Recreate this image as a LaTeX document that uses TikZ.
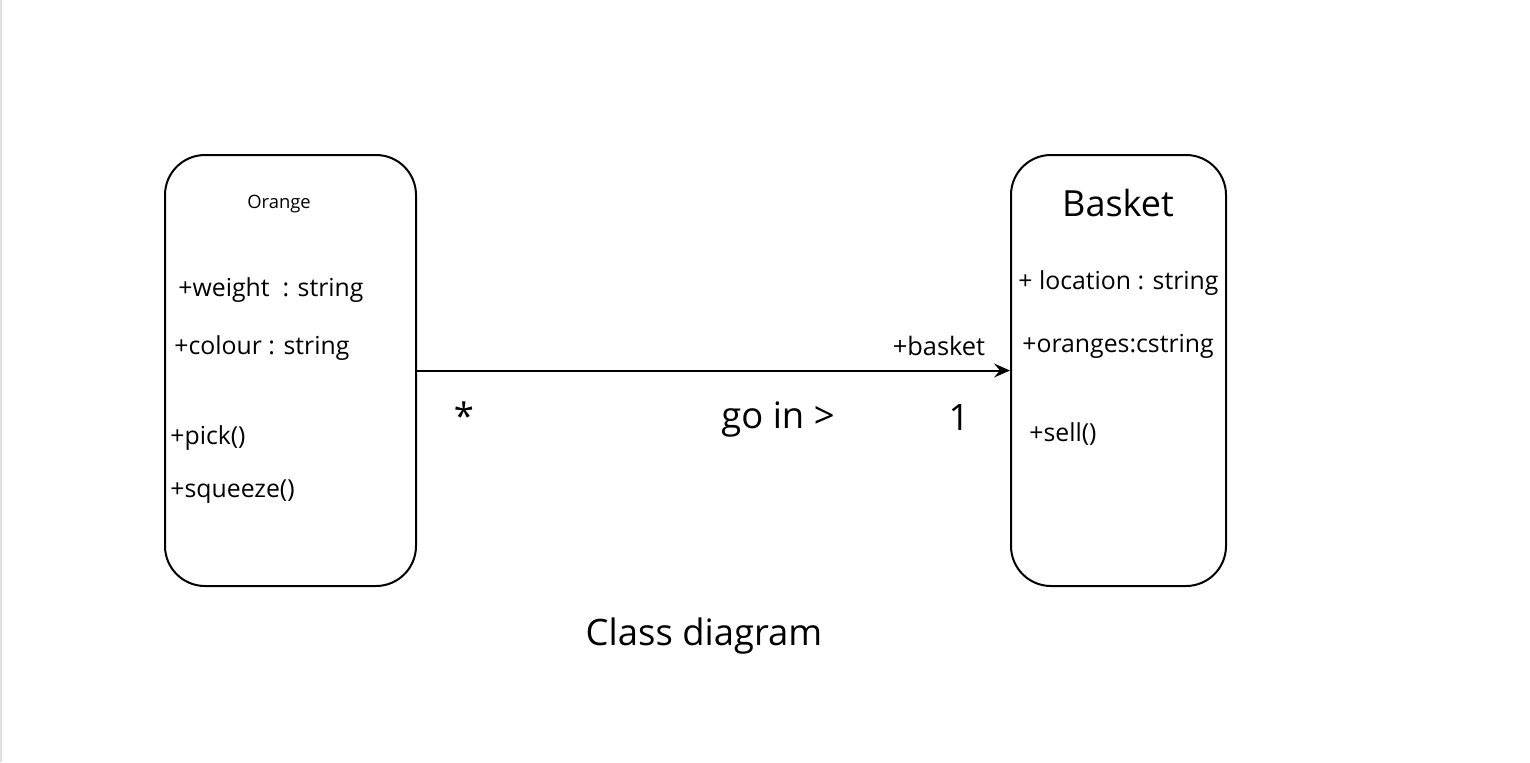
\documentclass[tikz,border=0pt]{standalone}
\usepackage{fontspec}
\setmainfont{Open Sans}
\usetikzlibrary{arrows.meta, positioning}

\begin{document}
\begin{tikzpicture}[
x=0.5pt, y=-0.5pt,
classbox/.style={rectangle, draw, line width=1pt, rounded corners=20pt, minimum height=215.5pt, inner sep=0pt},
member/.style={anchor=west, inner sep=0pt, font=\fontsize{12.4}{14}\selectfont},
label/.style={inner sep=0pt, font=\fontsize{18.2}{20}\selectfont},
arrow/.style={line width=1pt, -{Stealth[length=8pt, width=7pt, inset=3pt]}}
]

\useasboundingbox (0,0) rectangle (1530,762);
\fill[gray!25] (0,0) rectangle (2,762);

\node (orange) [classbox, minimum width=125.5pt] at (290.5,370.5) {};
\node (basket) [classbox, minimum width=107.5pt] at (1118.5,370.5) {};

\node (orangename) [inner sep=0pt, font=\fontsize{9.2}{11}\selectfont] at (279,204) {Orange};
\node (weight) [member] at (178,290) {+weight\ \ : string};
\node (colour) [member] at (174,348) {+colour : string};
\node (pick) [member] at (170,438) {+pick()};
\node (squeeze) [member] at (170,492) {+squeeze()};

\node (basketname) [inner sep=0pt, font=\fontsize{18}{20}\selectfont] at (1118,203) {Basket};
\node (location) [member] at (1018,283) {+ location : string};
\node (oranges) [member] at (1022,346) {+oranges:cstring};
\node (sell) [member] at (1029,434) {+sell()};

\draw [arrow] (orange.east) -- (basket.west);
\node (role) [inner sep=0pt, font=\fontsize{12.7}{14}\selectfont] at (939,346) {+basket};
\node (many) [label] at (464,416) {*};
\node (goin) [label] at (778,420) {go in >};
\node (one) [label] at (959,417) {1};

\node (caption) [label] at (704,636) {Class diagram};

\end{tikzpicture}
\end{document}
